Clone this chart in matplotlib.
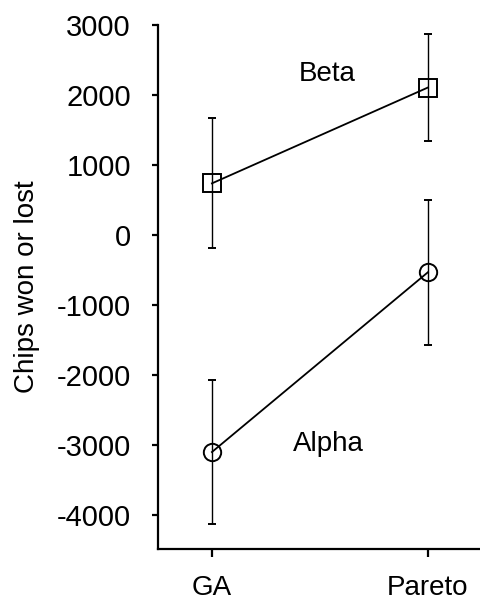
import matplotlib
matplotlib.use('Agg')
import matplotlib.pyplot as plt

plt.rcParams['font.family'] = ['Liberation Sans', 'DejaVu Sans']

groups = ['GA', 'Pareto']
beta = [740, 2110]
beta_err = [930, 770]
alpha = [-3100, -530]
alpha_err = [1035, 1035]
yticks = [-4000, -3000, -2000, -1000, 0, 1000, 2000, 3000]

fig = plt.figure(figsize=(4.8, 6.01), dpi=100)
ax = fig.add_axes([0.329, 0.0865, 0.671, 0.8715])

x = [1, 2]
ax.errorbar(x, beta, yerr=beta_err, color='black', lw=1.3, marker='s', ms=12.5,
            mfc='none', mec='black', mew=1.4, elinewidth=1.0, capsize=3, capthick=1.0)
ax.errorbar(x, alpha, yerr=alpha_err, color='black', lw=1.3, marker='o', ms=12.5,
            mfc='none', mec='black', mew=1.4, elinewidth=1.0, capsize=3, capthick=1.0)

ax.text(1.535, 2300, 'Beta', fontsize=20, ha='center', va='center')
ax.text(1.54, -2990, 'Alpha', fontsize=20, ha='center', va='center')

ax.set_xlim(0.75, 2.241)
ax.set_ylim(-4486, 3000)
ax.set_xticks(x)
ax.set_xticklabels(groups)
ax.set_yticks(yticks)
ax.set_yticklabels([str(v) for v in yticks])
ax.set_ylabel('Chips won or lost', fontsize=20, labelpad=12)

for s in ['top', 'right']:
    ax.spines[s].set_visible(False)
for s in ['left', 'bottom']:
    ax.spines[s].set_linewidth(1.6)
ax.tick_params(axis='y', labelsize=21, width=1.6, length=4.5, direction='out', pad=15)
ax.tick_params(axis='x', labelsize=20, width=1.6, length=5.5, direction='out', pad=13)

fig.savefig('out.png', dpi=100)
